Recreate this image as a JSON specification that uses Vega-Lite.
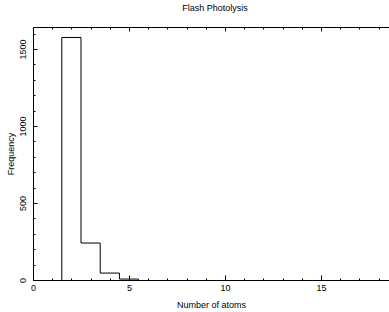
{
  "$schema": "https://vega.github.io/schema/vega-lite/v6.json",
  "autosize": "none",
  "padding": {"left": 33, "top": 27, "right": 0, "bottom": 32},
  "width": 356,
  "height": 253,
  "background": "white",
  "title": {"text": "Flash Photolysis", "fontSize": 9, "font": "Liberation Sans", "fontWeight": "normal", "color": "black", "offset": 14, "dx": 4},
  "config": {
    "view": {"stroke": null},
    "axis": {"domainColor": "black", "tickColor": "black", "labelColor": "black", "titleColor": "black", "labelFont": "Liberation Sans", "titleFont": "Liberation Sans", "labelFontSize": 9, "titleFontSize": 9, "titleFontWeight": "normal", "grid": false, "domainWidth": 1, "tickWidth": 1, "labelOverlap": false}
  },
  "data": {"values": [
    {"atoms": 1.5, "freq": 0},
    {"atoms": 1.5, "freq": 1575},
    {"atoms": 2.5, "freq": 240},
    {"atoms": 3.5, "freq": 45},
    {"atoms": 4.5, "freq": 6},
    {"atoms": 5.5, "freq": 0}
  ]},
  "resolve": {"axis": {"x": "independent", "y": "independent"}},
  "layer": [
    {
      "mark": {"type": "line", "interpolate": "step-after", "color": "black", "strokeWidth": 1},
      "encoding": {
        "x": {"field": "atoms", "type": "quantitative", "scale": {"domain": [0, 18.54], "nice": false, "zero": false},
              "axis": {"orient": "bottom", "values": [0, 5, 10, 15], "format": "d", "tickSize": -5, "labelPadding": 8, "title": "Number of atoms", "titlePadding": 8, "labelFlush": false}},
        "y": {"field": "freq", "type": "quantitative", "scale": {"domain": [0, 1643], "nice": false},
              "axis": {"orient": "left", "values": [0, 500, 1000, 1500], "format": "d", "tickSize": -4, "labelAngle": -90, "labelAlign": "center", "labelBaseline": "bottom", "labelPadding": 10, "title": "Frequency", "titlePadding": 3, "labelFlush": false}}
      }
    },
    {
      "mark": {"type": "line", "opacity": 0},
      "encoding": {
        "x": {"field": "atoms", "type": "quantitative", "scale": {"domain": [0, 18.54], "nice": false, "zero": false},
              "axis": {"orient": "bottom", "values": [1,2,3,4,6,7,8,9,11,12,13,14,16,17,18], "tickSize": -2, "labels": false, "title": null, "domain": false}},
        "y": {"field": "freq", "type": "quantitative", "scale": {"domain": [0, 1643], "nice": false},
              "axis": {"orient": "left", "values": [100,200,300,400,600,700,800,900,1100,1200,1300,1400,1600], "tickSize": -2, "labels": false, "title": null, "domain": false}}
      }
    },
    {
      "mark": {"type": "line", "opacity": 0},
      "encoding": {
        "x": {"field": "atoms", "type": "quantitative", "scale": {"domain": [0, 18.54], "nice": false, "zero": false},
              "axis": {"orient": "top", "values": [0, 5, 10, 15], "tickSize": -4, "labels": false, "title": null}},
        "y": {"field": "freq", "type": "quantitative", "scale": {"domain": [0, 1643], "nice": false}, "axis": null}
      }
    },
    {
      "mark": {"type": "line", "opacity": 0},
      "encoding": {
        "x": {"field": "atoms", "type": "quantitative", "scale": {"domain": [0, 18.54], "nice": false, "zero": false},
              "axis": {"orient": "top", "values": [1,2,3,4,6,7,8,9,11,12,13,14,16,17,18], "tickSize": -2, "labels": false, "title": null, "domain": false}},
        "y": {"field": "freq", "type": "quantitative", "scale": {"domain": [0, 1643], "nice": false}, "axis": null}
      }
    }
  ]
}
